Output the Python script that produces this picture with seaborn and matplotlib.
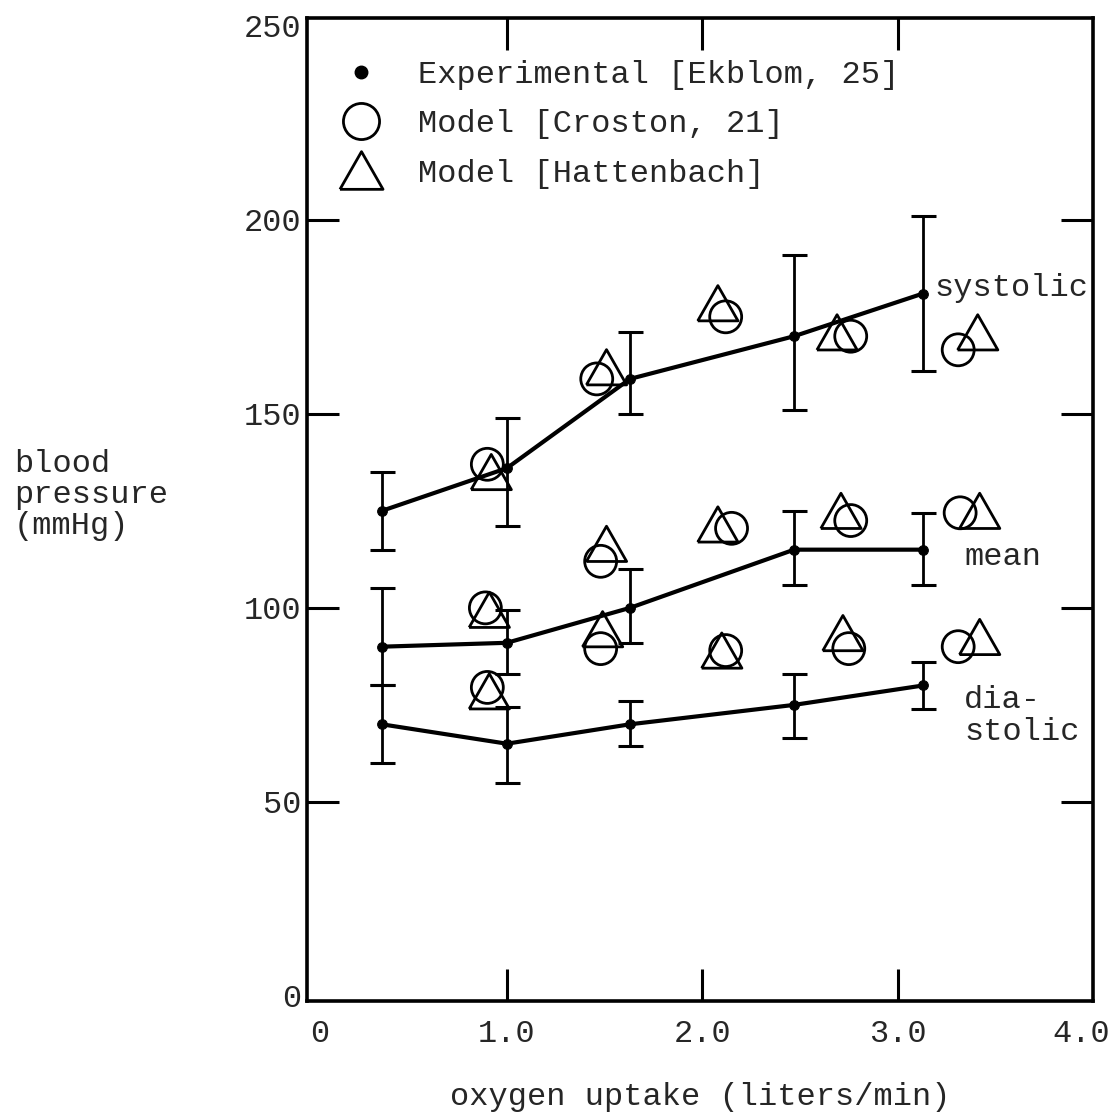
import matplotlib
matplotlib.use("Agg")
import matplotlib.pyplot as plt
import matplotlib.transforms as mtransforms
from matplotlib.lines import Line2D
import numpy as np
import pandas as pd
import seaborn as sns

# Experimental data (Ekblom): oxygen uptake and blood pressure with error ranges
exp_x = [0.36, 1.0, 1.63, 2.47, 3.13]
sys_exp = [125, 136, 159, 170, 181]
sys_low = [115, 121, 150, 151, 161]
sys_high = [135, 149, 171, 191, 201]
mean_exp = [90, 91, 100, 115, 115]
mean_low = [80, 83, 91, 106, 106]
mean_high = [105, 99.5, 110, 125, 124.5]
dia_exp = [70, 65, 70, 75, 80]
dia_low = [60, 55, 64.5, 66.5, 74]
dia_high = [80, 74.5, 76, 83, 86]

# Model results (Croston, circles)
cro_x_sys = [0.90, 1.46, 2.12, 2.76, 3.31]
cro_sys = [137, 159, 175, 170, 166.5]
cro_x_mean = [0.89, 1.48, 2.15, 2.76, 3.32]
cro_mean = [100, 112, 120.5, 122.5, 124.5]
cro_x_dia = [0.90, 1.48, 2.12, 2.75, 3.31]
cro_dia = [79.5, 89.5, 89, 89.5, 90]

# Model results (Hattenbach, triangles)
hat_x_sys = [0.92, 1.51, 2.08, 2.69, 3.41]
hat_sys = [135, 162, 178.5, 171, 171]
hat_x_mean = [0.91, 1.51, 2.08, 2.71, 3.42]
hat_mean = [99.5, 116.5, 121.5, 125, 125]
hat_x_dia = [0.91, 1.49, 2.10, 2.72, 3.42]
hat_dia = [78.5, 94.5, 89, 93.5, 92.5]

x_ticks = [0, 1, 2, 3, 4]
x_ticklabels = ["0", "1.0", "2.0", "3.0", "4.0"]
y_ticks = [0, 50, 100, 150, 200, 250]
y_ticklabels = ["0", "50", "100", "150", "200", "250"]

sns.set_style("white")
plt.rcParams["font.family"] = ["Liberation Mono", "DejaVu Sans Mono"]
FS = 23

fig = plt.figure(figsize=(11.19, 11.16), dpi=100)
ax = fig.add_axes([307 / 1119, 1 - 1001 / 1116, 786 / 1119, 983 / 1116])

exp_df = pd.DataFrame({
    "x": exp_x * 3,
    "bp": sys_exp + mean_exp + dia_exp,
    "low": sys_low + mean_low + dia_low,
    "high": sys_high + mean_high + dia_high,
    "kind": ["systolic"] * 5 + ["mean"] * 5 + ["diastolic"] * 5,
})

# Experimental curves with error bars
for kind, sub in exp_df.groupby("kind", sort=False):
    ax.errorbar(sub["x"], sub["bp"],
                yerr=[sub["bp"] - sub["low"], sub["high"] - sub["bp"]],
                fmt="none", ecolor="black", elinewidth=2.0,
                capsize=9, capthick=2.2, zorder=2)
    sns.lineplot(data=sub, x="x", y="bp", ax=ax, color="black",
                 linewidth=3.0, marker="o", markersize=7,
                 markeredgecolor="black", sort=False, legend=False,
                 errorbar=None, zorder=3)

tri = [(-1.0, -0.875), (1.0, -0.875), (0.0, 0.875), (-1.0, -0.875)]

cro_df = pd.DataFrame({"x": cro_x_sys + cro_x_mean + cro_x_dia,
                       "bp": cro_sys + cro_mean + cro_dia})
hat_df = pd.DataFrame({"x": hat_x_sys + hat_x_mean + hat_x_dia,
                       "bp": hat_sys + hat_mean + hat_dia})

sns.scatterplot(data=cro_df, x="x", y="bp", ax=ax, marker="o", s=23 ** 2,
                color="black", linewidth=2.0, legend=False, zorder=4)
ax.collections[-1].set_facecolor("none")
ax.collections[-1].set_edgecolor("black")
sns.scatterplot(data=hat_df, x="x", y="bp", ax=ax, marker=tri, s=29 ** 2,
                color="black", linewidth=2.0, legend=False, zorder=5)
ax.collections[-1].set_facecolor("none")
ax.collections[-1].set_edgecolor("black")

ax.set_xlim(-0.023, 3.977)
ax.set_ylim(-1.3, 252)
ax.set_xticks(x_ticks)
ax.set_xticklabels(x_ticklabels, fontsize=FS)
ax.set_yticks(y_ticks)
ax.set_yticklabels(y_ticklabels, fontsize=FS)
ax.tick_params(axis="both", direction="in", length=23, width=2.2,
               bottom=True, left=True, top=True, right=True, color="black")
ax.tick_params(axis="x", pad=13)
ax.tick_params(axis="y", pad=4)
# the end ticks sit on the frame itself, so only their labels are shown
for axis in (ax.xaxis, ax.yaxis):
    ticks = axis.get_major_ticks()
    for t in (ticks[0], ticks[-1]):
        t.tick1line.set_visible(False)
        t.tick2line.set_visible(False)
# nudge the outermost x labels inward so they stay on the page
xlabels = ax.get_xticklabels()
for lab, dx in ((xlabels[0], 8), (xlabels[-1], -12)):
    lab.set_transform(lab.get_transform() +
                      mtransforms.ScaledTranslation(dx / 100, 0,
                                                    fig.dpi_scale_trans))
for s in ax.spines.values():
    s.set_linewidth(2.6)
    s.set_color("black")

ax.set_xlabel("oxygen uptake (liters/min)", fontsize=FS, labelpad=24)
ax.set_ylabel("")
fig.text(14 / 1119, 1 - 495 / 1116, "blood\npressure\n(mmHg)", fontsize=FS,
         ha="left", va="center", multialignment="left", linespacing=1.05)

# Curve labels
ax.text(3.19, 182.5, "systolic", fontsize=FS, ha="left", va="center")
ax.text(3.34, 113, "mean", fontsize=FS, ha="left", va="center")
ax.text(3.34, 80, "dia-\nstolic", fontsize=FS, ha="left", va="top",
        linespacing=1.05)

handles = [
    Line2D([], [], linestyle="none", marker="o", markersize=9,
           color="black"),
    Line2D([], [], linestyle="none", marker="o", markersize=26,
           markerfacecolor="none", markeredgecolor="black",
           markeredgewidth=2.0),
    Line2D([], [], linestyle="none", marker=tri, markersize=31,
           markerfacecolor="none", markeredgecolor="black",
           markeredgewidth=2.0),
]
labels = ["Experimental [Ekblom, 25]", "Model [Croston, 21]",
          "Model [Hattenbach]"]
ax.legend(handles, labels, loc="upper left",
          bbox_to_anchor=(0.048, 0.957), frameon=False, fontsize=FS,
          handlelength=1.0, handletextpad=1.3, labelspacing=0.6,
          borderpad=0, borderaxespad=0)

fig.savefig("out.png", dpi=100)
